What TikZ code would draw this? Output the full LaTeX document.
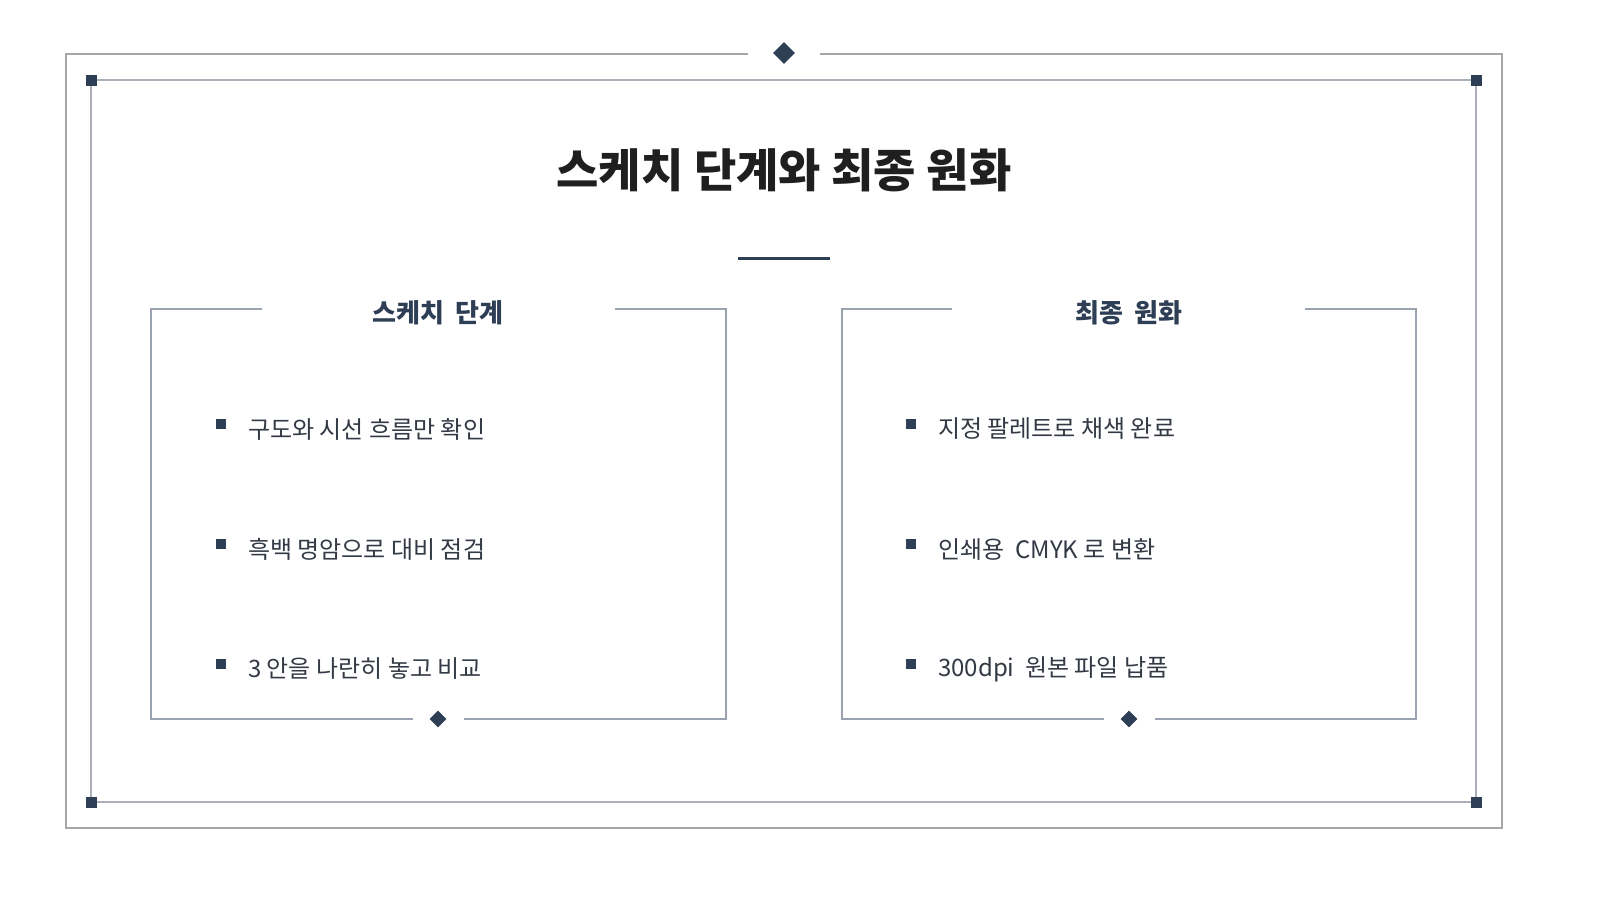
\documentclass[tikz,border=0pt]{standalone}
\usepackage{fontspec}
\setmainfont{Noto Sans CJK KR}
\usetikzlibrary{shapes.geometric}
\definecolor{navyc}{HTML}{2E3E55}
\definecolor{textc}{HTML}{333A45}
\definecolor{outerc}{HTML}{A6A6A6}
\definecolor{innerc}{HTML}{ABAFB7}
\definecolor{panelc}{HTML}{9CA3B0}
\begin{document}
\begin{tikzpicture}[x=1pt,y=-1pt,
  navy/.style={fill=navyc,draw=none},
  dia/.style={navy,shape=diamond,minimum size=#1,inner sep=0},
  sq/.style={navy,minimum size=#1,inner sep=0},
  item/.style={anchor=west,font=\fontsize{24}{28}\selectfont,text=textc,inner sep=0},
  head/.style={font=\fontsize{26}{31}\selectfont\bfseries,text=navyc,inner sep=0},
  pframe/.style={draw=panelc,line width=1.5pt}]
\useasboundingbox[fill=white] (0,0) rectangle (1598,900);
\draw[outerc,line width=2pt] (748,54) -- (66,54) -- (66,828) -- (1502,828) -- (1502,54) -- (820,54);
\node[dia=22pt] (topd) at (784,53) {};
\draw[innerc,line width=1.5pt] (91,80) rectangle (1476,802);
\foreach \p/\n in {{(91,80)}/a,{(1476,80)}/b,{(91,802)}/c,{(1476,802)}/d}
  \node[sq=11pt] (c\n) at \p {};
\node[font=\fontsize{46}{56}\selectfont\bfseries,text=black!88] (title) at (784,170) {스케치 단계와 최종 원화};
\draw[navyc,line width=3pt] (738,258) -- (830,258);
\foreach \L/\R/\C/\g/\h/\bl/\br/\nm in {151/726/438/262/615/413/464/l, 842/1416/1129/952/1305/1104/1155/r}{
  \draw[pframe] (\g,309) -- (\L,309) -- (\L,719) -- (\bl,719);
  \draw[pframe] (\br,719) -- (\R,719) -- (\R,309) -- (\h,309);
  \node[dia=17pt] (d\nm) at (\C,719) {};
}
\node[head] (hl) at (438,313) {스케치\ \ 단계};
\node[head] (hr) at (1129,313) {최종\ \ 원화};
\foreach \y/\t/\i in {429/구도와 시선 흐름만 확인/1, 549/흑백 명암으로 대비 점검/2, 669/3 안을 나란히 놓고 비교/3}{
  \node[sq=10pt] (bl\i) at (221,\y-5) {};
  \node[item] (tl\i) at (248,\y) {\t};
}
\foreach \y/\t/\i in {429/지정 팔레트로 채색 완료/1, 549/인쇄용\ \ CMYK 로 변환/2, 669/300dpi\ \ 원본 파일 납품/3}{
  \node[sq=10pt] (br\i) at (911,\y-5) {};
  \node[item] (tr\i) at (938,\y) {\t};
}
\end{tikzpicture}
\end{document}
